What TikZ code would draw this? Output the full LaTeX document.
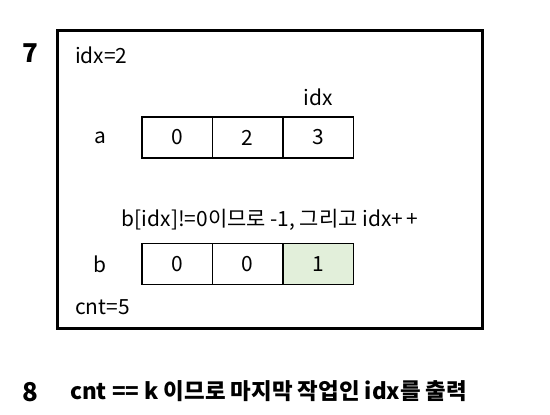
\documentclass[tikz,border=0pt]{standalone}
\usepackage{fontspec}
\setmainfont{Noto Sans CJK KR}
\definecolor{cellgreen}{HTML}{E2EFDA}
\begin{document}
\begin{tikzpicture}[x=1bp,y=-1bp,
  txt/.style={inner sep=0pt,font=\fontsize{21}{24}\selectfont},
  bigtxt/.style={inner sep=0pt,font=\fontsize{26}{30}\selectfont\bfseries},
  cell/.style={draw=black,line width=1.5bp,minimum width=70.5bp,minimum height=41bp,inner sep=0pt,font=\fontsize{21}{24}\selectfont}]
\useasboundingbox (0,0) rectangle (550,414);
\node[draw=black,line width=3bp,minimum width=424bp,minimum height=298bp,inner sep=0pt] (frame) at (270,179) {};
\node[bigtxt] (n7) at (30,53) {7};
\node[txt,anchor=west] (idx2) at (75,55) {idx=2};
\node[txt] (idxl) at (318,97) {idx};
\node[txt] (la) at (100,138) {a};
\node[cell] (a0) at (177,137.5) {0};
\node[cell] (a1) at (247.5,137.5) {2};
\node[cell] (a2) at (318,137.5) {3};
\node[txt] (msg) at (270,220) {b[idx]!=0이므로 -1, 그리고 idx+\,+};
\node[txt] (lb) at (100,264) {b};
\node[cell] (b0) at (177,264) {0};
\node[cell] (b1) at (247.5,264) {0};
\node[cell,fill=cellgreen] (b2) at (318,264) {1};
\node[txt,anchor=west] (cnt) at (75,307) {cnt=5};
\node[bigtxt] (n8) at (30,392) {8};
\node[inner sep=0pt,font=\fontsize{22.5}{26}\selectfont\bfseries,anchor=west] (fin) at (70,391) {cnt == k 이므로 마지막 작업인 idx를 출력};
\end{tikzpicture}
\end{document}
